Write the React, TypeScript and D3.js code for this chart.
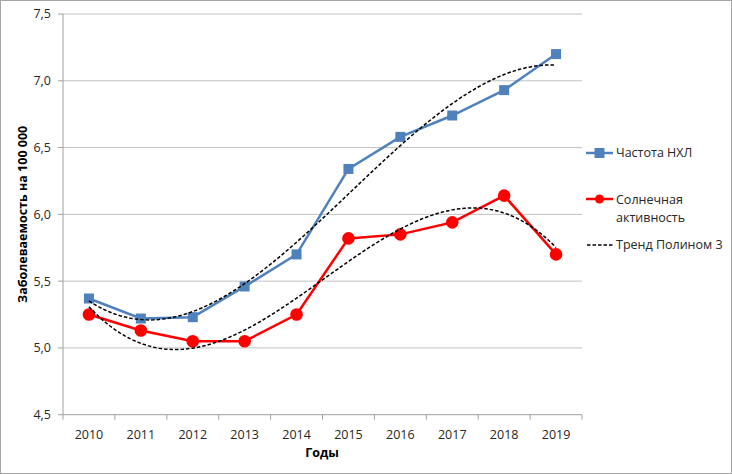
import React from "react";
import * as d3 from "d3";

const years = ["2010", "2011", "2012", "2013", "2014", "2015", "2016", "2017", "2018", "2019"];
const nhlValues = [5.37, 5.22, 5.23, 5.46, 5.70, 6.34, 6.58, 6.74, 6.93, 7.20];
const solarValues = [5.25, 5.13, 5.05, 5.05, 5.25, 5.82, 5.85, 5.94, 6.14, 5.70];
const yTicks = [4.5, 5.0, 5.5, 6.0, 6.5, 7.0, 7.5];
const legendLabels = ["Частота НХЛ", "Солнечная активность", "Тренд Полином 3"];

// cubic least-squares fit
function polyfit(ys: number[], deg: number): number[] {
  const n = deg + 1;
  const xs = ys.map((_, i) => i + 1);
  const A: number[][] = [];
  for (let r = 0; r < n; r++) {
    const row: number[] = [];
    for (let c = 0; c < n; c++) row.push(d3.sum(xs, (x) => Math.pow(x, r + c)));
    row.push(d3.sum(xs, (x, i) => Math.pow(x, r) * ys[i]));
    A.push(row);
  }
  for (let i = 0; i < n; i++) {
    let p = i;
    for (let k = i + 1; k < n; k++) if (Math.abs(A[k][i]) > Math.abs(A[p][i])) p = k;
    const tmp = A[i]; A[i] = A[p]; A[p] = tmp;
    for (let k = 0; k < n; k++) {
      if (k === i) continue;
      const f = A[k][i] / A[i][i];
      for (let c = i; c <= n; c++) A[k][c] -= f * A[i][c];
    }
  }
  return A.map((row, i) => row[n] / row[i]);
}

function trendPoints(ys: number[]) {
  const co = polyfit(ys, 3);
  const pts: [number, number][] = [];
  for (let t = 1; t <= ys.length + 1e-9; t += 0.05) {
    pts.push([t, co.reduce((s, c, k) => s + c * Math.pow(t, k), 0)]);
  }
  return pts;
}

export default function App() {
  const W = 732, H = 474;
  const left = 63, right = 582, top = 14, bottom = 414.7;
  const x = d3.scaleBand<string>().domain(years).range([left, right]);
  const y = d3.scaleLinear().domain([4.5, 7.5]).range([bottom, top]);
  const cx = (i: number) => x(years[i])! + x.bandwidth() / 2;
  const tx = (t: number) => x(years[0])! + x.bandwidth() / 2 + (t - 1) * x.step();
  const line = d3.line<number>().x((_, i) => cx(i)).y((v) => y(v));
  const tline = d3.line<[number, number]>().x((p) => tx(p[0])).y((p) => y(p[1])).curve(d3.curveLinear);
  const font = "'Open Sans', 'Noto Sans', sans-serif";
  const blue = "#4f81bd";
  const red = "#ff0000";
  const fmt = (v: number) => v.toFixed(1).replace(".", ",");
  const tickXs = d3.range(years.length + 1).map((i) => left + i * x.step());
  const dash = "3.5,2";

  return (
    <svg width={W} height={H} style={{ position: "absolute", left: 0, top: 0, background: "#fff" }} fontFamily={font}>
      <rect x={0.5} y={0.5} width={W - 1} height={H - 1} fill="#fff" stroke="#a6a6a6" />
      {yTicks.map((t) => (
        <g key={t}>
          {t > 4.5 && <line x1={left} x2={right} y1={y(t)} y2={y(t)} stroke="#c0c0c0" strokeWidth={1} />}
          <line x1={left - 5} x2={left} y1={y(t)} y2={y(t)} stroke="#a0a0a0" />
          <text x={left - 12} y={y(t)} dy="0.35em" textAnchor="end" fontSize={12.5} fill="#262626">{fmt(t)}</text>
        </g>
      ))}
      <line x1={left} x2={left} y1={top} y2={bottom} stroke="#a0a0a0" />
      <line x1={left} x2={right} y1={bottom} y2={bottom} stroke="#a0a0a0" />
      {tickXs.map((tx0, i) => (
        <line key={i} x1={tx0} x2={tx0} y1={bottom} y2={bottom + 5} stroke="#a0a0a0" />
      ))}
      {years.map((yr, i) => (
        <text key={yr} x={cx(i)} y={bottom + 24} textAnchor="middle" fontSize={12.5} fill="#262626">{yr}</text>
      ))}
      <text x={322} y={457} textAnchor="middle" fontSize={12.5} fontWeight="bold" fill="#000">Годы</text>
      <text transform={`translate(27,${(top + bottom) / 2}) rotate(-90)`} textAnchor="middle" fontSize={12.5} fontWeight="bold" fill="#000">Заболеваемость на 100 000</text>

      <path d={line(nhlValues)!} fill="none" stroke={blue} strokeWidth={2.5} />
      {nhlValues.map((v, i) => (
        <rect key={i} x={cx(i) - 5} y={y(v) - 5} width={10} height={10} fill={blue} />
      ))}
      <path d={line(solarValues)!} fill="none" stroke={red} strokeWidth={2.5} />
      {solarValues.map((v, i) => (
        <circle key={i} cx={cx(i)} cy={y(v)} r={6.3} fill={red} />
      ))}
      <path d={tline(trendPoints(nhlValues))!} fill="none" stroke="#000" strokeWidth={1.5} strokeDasharray={dash} />
      <path d={tline(trendPoints(solarValues))!} fill="none" stroke="#000" strokeWidth={1.5} strokeDasharray={dash} />

      <g fontSize={12.5} fill="#262626">
        <line x1={586} x2={613} y1={153} y2={153} stroke={blue} strokeWidth={2.5} />
        <rect x={594.5} y={148} width={10} height={10} fill={blue} />
        <text x={616} y={153} dy="0.35em">{legendLabels[0]}</text>
        <line x1={586} x2={613} y1={199} y2={199} stroke={red} strokeWidth={2.5} />
        <circle cx={599.5} cy={199} r={4.5} fill={red} />
        <text x={616} y={200} dy="0.35em">Солнечная</text>
        <text x={616} y={218} dy="0.35em">активность</text>
        <line x1={587} x2={613} y1={245} y2={245} stroke="#000" strokeWidth={1.5} strokeDasharray={dash} />
        <text x={616} y={245} dy="0.35em">{legendLabels[2]}</text>
      </g>
    </svg>
  );
}
